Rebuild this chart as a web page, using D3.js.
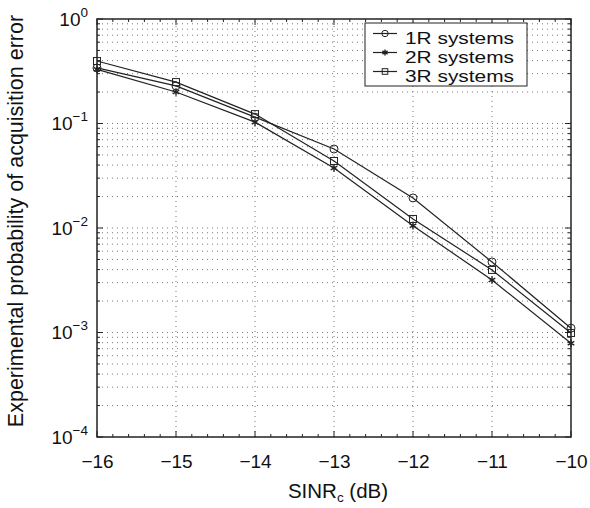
<!DOCTYPE html>
<html><head><meta charset="utf-8">
<script src="https://cdn.jsdelivr.net/npm/d3@7"></script>
<style>body{margin:0;background:#fff}svg{display:block}text{font-family:"Liberation Sans",Arial,sans-serif}</style>
</head><body>
<script>
const xValues = [-16, -15, -14, -13, -12, -11, -10];
const series1R = [0.34, 0.229, 0.115, 0.057, 0.0194, 0.00473, 0.0011];
const series2R = [0.33, 0.20, 0.103, 0.0375, 0.0105, 0.00318, 0.00079];
const series3R = [0.396, 0.249, 0.123, 0.0438, 0.0122, 0.00397, 0.00099];
const seriesNames = ["1R systems", "2R systems", "3R systems"];
const xTicks = [-16, -15, -14, -13, -12, -11, -10];
const yTickExps = [0, -1, -2, -3, -4];

const W = 590, H = 508;
const m = {l: 97, r: 19, t: 19, b: 71};
const svg = d3.select("body").append("svg").attr("width", W).attr("height", H);
const x = d3.scaleLinear().domain([-16, -10]).range([m.l, W - m.r]);
const y = d3.scaleLog().domain([1e-4, 1]).range([H - m.b, m.t]);
const x0 = x.range()[0], x1 = x.range()[1], y0 = y.range()[0], y1 = y.range()[1];
const g = svg.append("g");
const col = "#222";

// grid: horizontal at all log ticks
const yGrid = [];
for (let e = -4; e < 0; e++) for (let k = 1; k < 10; k++) yGrid.push(k * Math.pow(10, e));
yGrid.push(1);
g.selectAll(".hg").data(yGrid.filter(v => v < 1 && v > 1e-4)).enter().append("line")
  .attr("x1", x0).attr("x2", x1).attr("y1", d => y(d)).attr("y2", d => y(d))
  .attr("stroke", "#777").attr("stroke-width", 1).attr("stroke-dasharray", "1,4");
g.selectAll(".vg").data(xTicks.slice(1, -1)).enter().append("line")
  .attr("x1", d => x(d)).attr("x2", d => x(d)).attr("y1", y0).attr("y2", y1)
  .attr("stroke", "#777").attr("stroke-width", 1).attr("stroke-dasharray", "1,4");

// axes
const ax = d3.axisBottom(x).tickValues(xTicks).tickSize(0).tickPadding(18)
  .tickFormat(d => d3.format("d")(d).replace("-", "\u2212"));
const axG = svg.append("g").attr("transform", `translate(0,${y0})`).call(ax);
axG.select(".domain").remove();
axG.selectAll("text").attr("font-size", 19).attr("fill", "#111").attr("dy", null).attr("y", 31);

const ay = d3.axisLeft(y).tickValues(yTickExps.map(e => Math.pow(10, e))).tickSize(0).tickPadding(8).tickFormat("");
const ayG = svg.append("g").attr("transform", `translate(${x0},0)`).call(ay);
ayG.select(".domain").remove();
ayG.selectAll(".tick").each(function(d) {
  const e = Math.round(Math.log10(d));
  const t = d3.select(this).append("text").attr("x", -9).attr("y", 6)
    .attr("text-anchor", "end").attr("font-size", 19).attr("fill", "#111");
  t.append("tspan").text("10");
  t.append("tspan").attr("dy", -9).attr("font-size", 13.5).text(e === 0 ? "0" : "\u2212" + Math.abs(e));
});

// tick marks on all sides
const major = 6, minor = 3;
xTicks.forEach(v => {
  g.append("line").attr("x1", x(v)).attr("x2", x(v)).attr("y1", y0).attr("y2", y0 - major).attr("stroke", col);
  g.append("line").attr("x1", x(v)).attr("x2", x(v)).attr("y1", y1).attr("y2", y1 + major).attr("stroke", col);
});
const xMinor = d3.range(-16, -10.001, 0.2).filter(v => Math.abs(v - Math.round(v)) > 1e-6);
xMinor.forEach(v => {
  g.append("line").attr("x1", x(v)).attr("x2", x(v)).attr("y1", y0).attr("y2", y0 - minor).attr("stroke", col);
  g.append("line").attr("x1", x(v)).attr("x2", x(v)).attr("y1", y1).attr("y2", y1 + minor).attr("stroke", col);
});
yGrid.forEach(v => {
  const isMaj = Math.abs(Math.log10(v) - Math.round(Math.log10(v))) < 1e-9;
  const L = isMaj ? major : minor;
  g.append("line").attr("x1", x0).attr("x2", x0 + L).attr("y1", y(v)).attr("y2", y(v)).attr("stroke", col);
  g.append("line").attr("x1", x1).attr("x2", x1 - L).attr("y1", y(v)).attr("y2", y(v)).attr("stroke", col);
});
g.append("rect").attr("x", x0).attr("y", y1).attr("width", x1 - x0).attr("height", y0 - y1)
  .attr("fill", "none").attr("stroke", col).attr("stroke-width", 1.5);

// series
const allSeries = [series1R, series2R, series3R];
const line = d3.line().x((d, i) => x(xValues[i])).y(d => y(d));
allSeries.forEach(s => {
  svg.append("path").datum(s).attr("d", line).attr("fill", "none").attr("stroke", col).attr("stroke-width", 1.2);
});
function marker(sel, type, cx, cy, sc) {
  sc = sc || 1;
  if (type === 0) sel.append("circle").attr("cx", cx).attr("cy", cy).attr("r", 4 * sc).attr("fill", "#fff").attr("fill-opacity", 0).attr("stroke", col).attr("stroke-width", 1);
  else if (type === 1) sel.append("path").attr("d", d3.symbol(d3.symbolAsterisk || d3.symbolStar, 40 * sc * sc)())
    .attr("transform", `translate(${cx},${cy})`).attr("fill", "none").attr("stroke", col).attr("stroke-width", 1.4);
  else sel.append("rect").attr("x", cx - 3.5 * sc).attr("y", cy - 3.5 * sc).attr("width", 7 * sc).attr("height", 7 * sc).attr("fill", "none").attr("stroke", col).attr("stroke-width", 1);
}
allSeries.forEach((s, k) => s.forEach((v, i) => marker(svg, k, x(xValues[i]), y(v))));

// legend
const lg = svg.append("g");
lg.append("rect").attr("x", 365).attr("y", 23).attr("width", 162).attr("height", 63)
  .attr("fill", "#fff").attr("stroke", col).attr("stroke-width", 1);
seriesNames.forEach((n, k) => {
  const bl = 43.5 + k * 19;
  const ly = bl - 10;
  lg.append("line").attr("x1", 373).attr("x2", 397).attr("y1", ly).attr("y2", ly).attr("stroke", col).attr("stroke-width", 1.2);
  marker(lg, k, 385, ly, 0.8);
  lg.append("text").attr("x", 405).attr("y", bl).attr("font-size", 16).attr("fill", "#111")
    .attr("textLength", 109).attr("lengthAdjust", "spacingAndGlyphs").text(n);
});

// axis titles
const xt = svg.append("text").attr("x", (x0 + x1) / 2 + 4).attr("y", 498).attr("text-anchor", "middle")
  .attr("font-size", 20.5).attr("fill", "#111");
xt.append("tspan").text("SINR");
xt.append("tspan").attr("dy", 4).attr("font-size", 13.5).text("c");
xt.append("tspan").attr("dy", -4).text(" (dB)");
svg.append("text").attr("transform", `translate(23,221) rotate(-90)`).attr("text-anchor", "middle")
  .attr("font-size", 21.5).attr("fill", "#111").text("Experimental probability of acquisition error");
</script>
</body></html>
